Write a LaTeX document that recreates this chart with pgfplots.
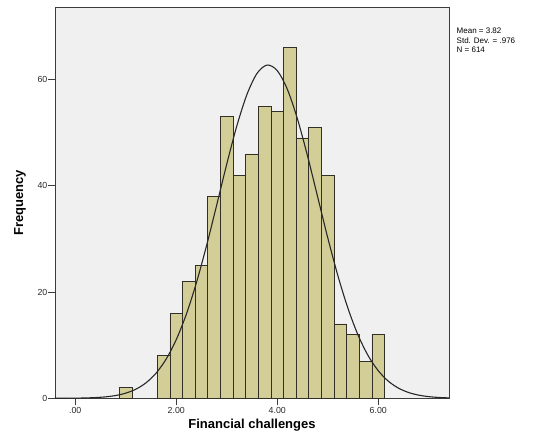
\documentclass[border=0pt]{standalone}
\usepackage{fontspec}
\setmainfont{Liberation Sans}
\usepackage{pgfplots}
\pgfplotsset{compat=1.18}

\definecolor{plotbg}{RGB}{240,240,240}
\definecolor{barfill}{RGB}{211,206,151}
\definecolor{baredge}{RGB}{50,48,38}
\definecolor{framegray}{RGB}{60,60,60}
\definecolor{ticktext}{RGB}{40,40,40}
\definecolor{curvecol}{RGB}{40,40,40}

\begin{document}
\begin{tikzpicture}[x=1pt,y=1pt]
\useasboundingbox (0,0) rectangle (538,441);
\begin{axis}[
  at={(55pt,42.7pt)}, anchor=south west,
  scale only axis, width=394pt, height=391pt,
  xmin=-0.4, xmax=7.4, ymin=0, ymax=73.6,
  axis background/.style={fill=plotbg},
  axis line style={framegray, line width=0.8pt},
  xtick={0,2,4,6}, xticklabels={.00,2.00,4.00,6.00},
  ytick={0,20,40,60},
  xtick pos=bottom, ytick pos=left,
  tick align=outside, major tick length=7pt,
  tick style={framegray, line width=0.8pt},
  /pgf/number format/assume math mode=true,
  ticklabel style={font=\fontsize{8.8}{10}\selectfont, text=ticktext},
  xticklabel style={inner sep=1pt, yshift=-1pt},
  yticklabel style={inner sep=0.5pt},
  xlabel={Financial challenges},
  ylabel={Frequency},
  label style={font=\fontsize{13}{15}\selectfont\bfseries},
  xlabel style={at={(axis description cs:0.5,-0.076)}, anchor=base},
  ylabel style={at={(axis description cs:-0.0888,0.5)}, anchor=center, rotate=0},
  clip=true,
]
% histogram bins of width 0.25
\addplot[ybar interval, fill=barfill, draw=baredge, line width=0.8pt]
  coordinates {(0.875,2) (1.125,2)};
\addplot[ybar interval, fill=barfill, draw=baredge, line width=0.8pt]
  coordinates {
    (1.625,8) (1.875,16) (2.125,22) (2.375,25) (2.625,38) (2.875,53)
    (3.125,42) (3.375,46) (3.625,55) (3.875,54) (4.125,66) (4.375,49)
    (4.625,51) (4.875,42) (5.125,14) (5.375,12) (5.625,7) (5.875,12)
    (6.125,12)};
% fitted normal curve (mean 3.82, sd .976, N 614)
\addplot[smooth, draw=curvecol, line width=1.1pt, mark=none]
  coordinates {
    (-0.4,0.005) (0,0.030) (0.2,0.065) (0.4,0.135) (0.6,0.271) (0.8,0.523)
    (1.0,0.966) (1.2,1.71) (1.4,2.90) (1.6,4.72) (1.8,7.37) (2.0,11.03)
    (2.2,15.82) (2.4,21.77) (2.6,28.73) (2.8,36.34) (3.0,44.08) (3.2,51.28)
    (3.4,57.19) (3.6,61.17) (3.8,62.73) (4.0,61.68) (4.2,58.16) (4.4,52.58)
    (4.6,45.59) (4.8,37.90) (5.0,30.21) (5.2,23.09) (5.4,16.92) (5.6,11.89)
    (5.8,8.01) (6.0,5.18) (6.2,3.21) (6.4,1.91) (6.6,1.09) (6.8,0.593)
    (7.0,0.310) (7.2,0.156) (7.4,0.075)};
\end{axis}
\node[anchor=north west, inner sep=0pt, align=left,
      font=\fontsize{8}{9.5}\selectfont, text=black]
  at (456.5,413.2) {Mean = 3.82\\Std. Dev. = .976\\N = 614};
\end{tikzpicture}
\end{document}
